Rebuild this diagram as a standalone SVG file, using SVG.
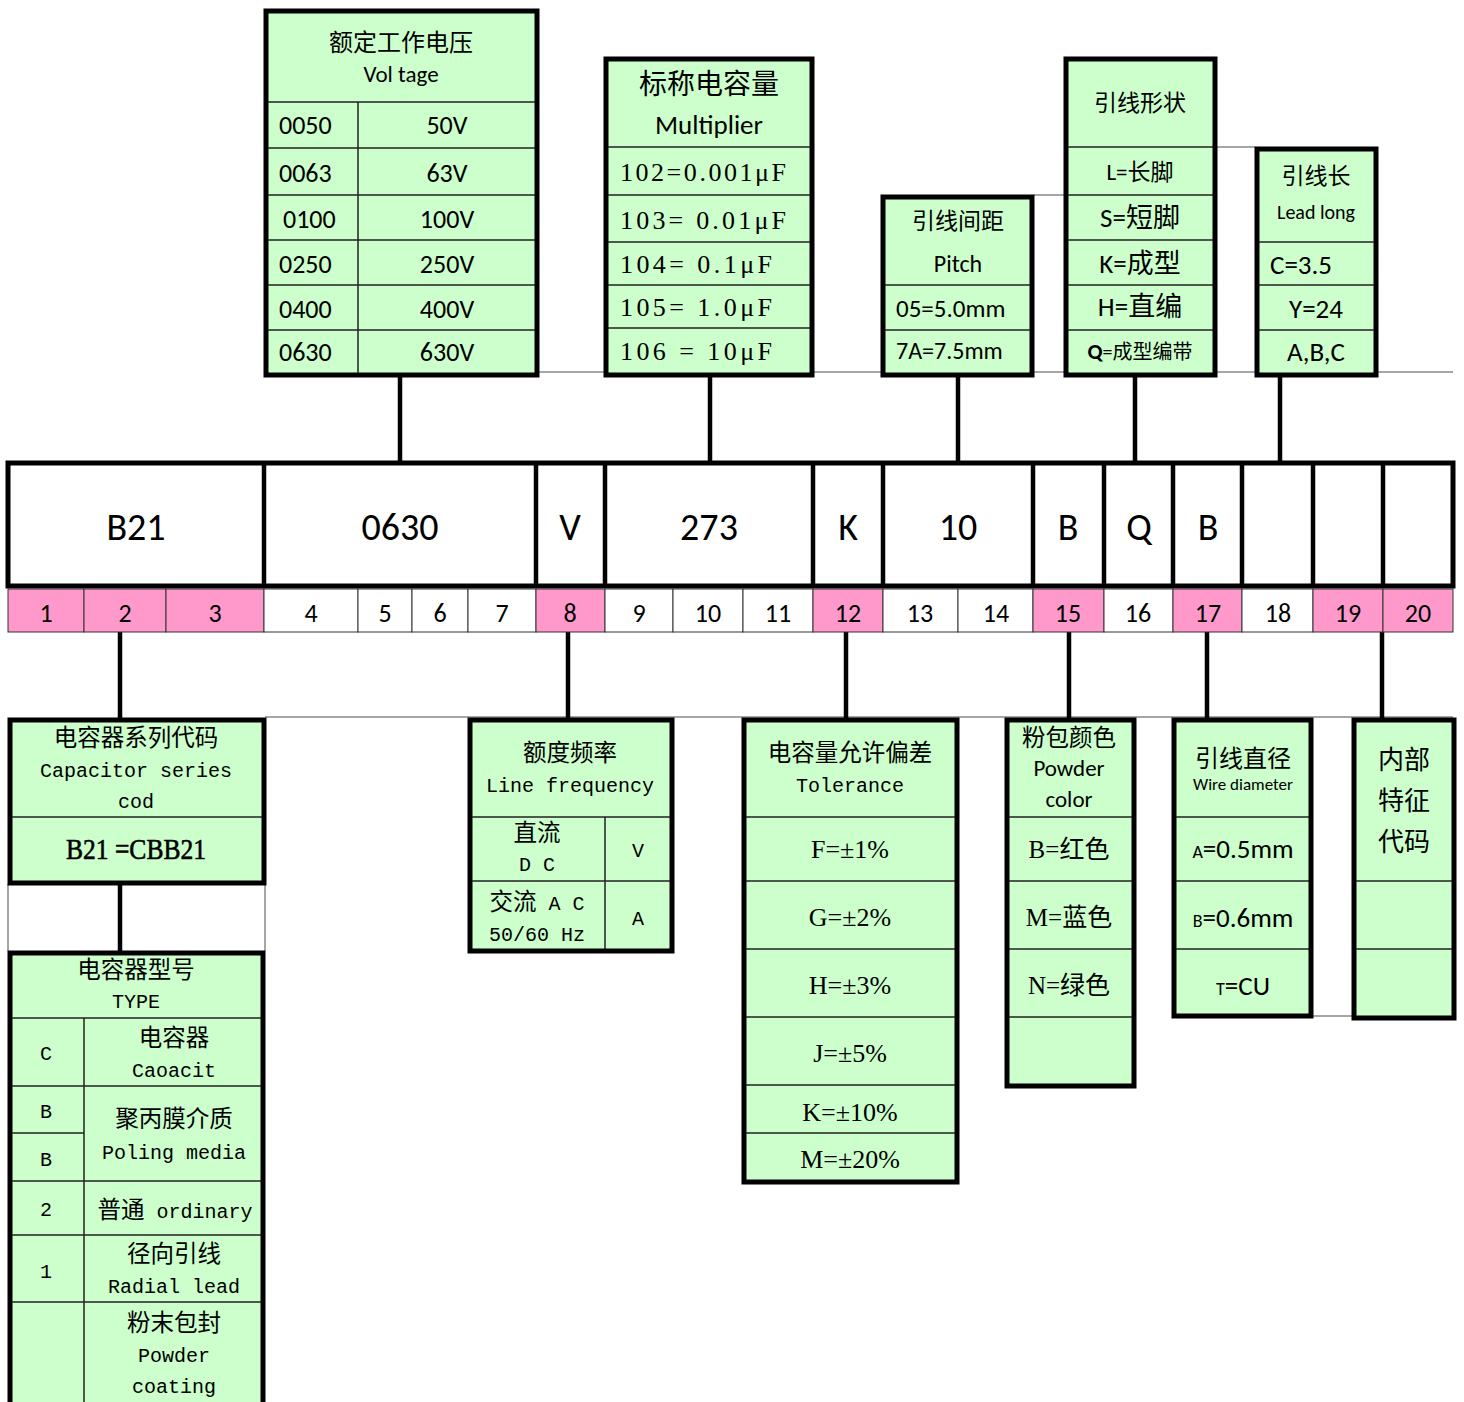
<svg xmlns="http://www.w3.org/2000/svg" width="1464" height="1402" viewBox="0 0 1464 1402">
<style>
.box{fill:#CCFFCC;stroke:#000;stroke-width:5}
.in{stroke:#222;stroke-width:1.5;fill:none}
.thin{stroke:#888;stroke-width:1.5;fill:none}
.con{stroke:#000;stroke-width:4.5;fill:none}
.sans{font-family:Carlito,"Open Sans","Noto Sans CJK SC",sans-serif;fill:#000}
.ser{font-family:"Liberation Serif","Noto Sans CJK SC",serif;fill:#000}
.mono{font-family:"Liberation Mono","Noto Sans CJK SC",monospace;fill:#000}
.c{text-anchor:middle}
.pink{fill:#FF99CC}
.num{fill:#fff}
.cell{stroke:#333;stroke-width:1}
</style>
<rect width="1464" height="1402" fill="#fff"/>
<g id="connectors">
<line class="thin" x1="538" y1="372" x2="1453" y2="372"/>
<line class="thin" x1="1034" y1="195" x2="1064" y2="195"/>
<line class="thin" x1="1217" y1="147" x2="1255" y2="147"/>
<line class="thin" x1="265" y1="717" x2="1453" y2="717"/>
<line class="thin" x1="8" y1="884" x2="8" y2="951"/>
<line class="thin" x1="265" y1="884" x2="265" y2="951"/>
<line class="thin" x1="1313" y1="1016" x2="1352" y2="1016"/>
<line class="con" x1="400" y1="376" x2="400" y2="463"/>
<line class="con" x1="710" y1="376" x2="710" y2="463"/>
<line class="con" x1="958" y1="376" x2="958" y2="463"/>
<line class="con" x1="1135" y1="376" x2="1135" y2="463"/>
<line class="con" x1="1280" y1="376" x2="1280" y2="463"/>
<line class="con" x1="120" y1="632" x2="120" y2="718"/>
<line class="con" x1="120" y1="884" x2="120" y2="951"/>
<line class="con" x1="568" y1="632" x2="568" y2="718"/>
<line class="con" x1="846" y1="632" x2="846" y2="718"/>
<line class="con" x1="1069" y1="632" x2="1069" y2="718"/>
<line class="con" x1="1207" y1="632" x2="1207" y2="718"/>
<line class="con" x1="1382" y1="632" x2="1382" y2="718"/>
</g>

<g id="voltage">
<rect class="box" x="266" y="11" width="271" height="364"/>
<path class="in" d="M268 102H535M268 148H535M268 195H535M268 240H535M268 285H535M268 330H535M358 102V373"/>
<text class="sans c" x="401" y="51" font-size="24">额定工作电压</text>
<text class="sans c" x="401" y="82" font-size="23">Vol tage</text>
<g class="sans" font-size="26">
<text x="279" y="134">0050</text><text x="279" y="182">0063</text><text x="283" y="228">0100</text><text x="279" y="273">0250</text><text x="279" y="318">0400</text><text x="279" y="361">0630</text>
</g>
<g class="sans c" font-size="26">
<text x="447" y="134">50V</text><text x="447" y="182">63V</text><text x="447" y="228">100V</text><text x="447" y="273">250V</text><text x="447" y="318">400V</text><text x="447" y="361">630V</text>
</g>
</g>

<g id="multiplier">
<rect class="box" x="606" y="59" width="206" height="316"/>
<path class="in" d="M608 147H810M608 195H810M608 242H810M608 285H810M608 328H810"/>
<text class="sans c" x="709" y="94" font-size="28">标称电容量</text>
<text class="sans c" x="709" y="134" font-size="27">Multiplier</text>
<g class="ser" font-size="26">
<text x="620" y="181" textLength="166" lengthAdjust="spacing">102=0.001μF</text>
<text x="620" y="229" textLength="166" lengthAdjust="spacing">103= 0.01μF</text>
<text x="620" y="273" textLength="152" lengthAdjust="spacing">104= 0.1μF</text>
<text x="620" y="316" textLength="152" lengthAdjust="spacing">105= 1.0μF</text>
<text x="620" y="360" textLength="152" lengthAdjust="spacing">106 = 10μF</text>
</g>
</g>

<g id="pitch">
<rect class="box" x="883" y="197" width="149" height="178"/>
<path class="in" d="M885 285H1030M885 330H1030"/>
<text class="sans c" x="958" y="229" font-size="23">引线间距</text>
<text class="sans c" x="958" y="272" font-size="24">Pitch</text>
<text class="sans" x="896" y="317" font-size="25">05=5.0mm</text>
<text class="sans" x="896" y="359" font-size="24">7A=7.5mm</text>
</g>

<g id="leadshape">
<rect class="box" x="1066" y="59" width="149" height="316"/>
<path class="in" d="M1068 147H1213M1068 195H1213M1068 240H1213M1068 285H1213M1068 330H1213"/>
<text class="sans c" x="1140" y="111" font-size="23">引线形状</text>
<text class="sans c" x="1140" y="180" font-size="23">L=长脚</text>
<text class="sans c" x="1140" y="227" font-size="27">S=短脚</text>
<text class="sans c" x="1140" y="273" font-size="27">K=成型</text>
<text class="sans c" x="1140" y="316" font-size="27">H=直编</text>
<text class="sans c" x="1140" y="359" font-size="20"><tspan font-weight="bold" font-size="22">Q</tspan>=成型编带</text>
</g>

<g id="leadlong">
<rect class="box" x="1257" y="149" width="119" height="226"/>
<path class="in" d="M1259 242H1374M1259 285H1374M1259 330H1374"/>
<text class="sans c" x="1316" y="184" font-size="23">引线长</text>
<text class="sans c" x="1316" y="219" font-size="20">Lead long</text>
<text class="sans" x="1270" y="274" font-size="27">C=3.5</text>
<text class="sans c" x="1316" y="318" font-size="27">Y=24</text>
<text class="sans c" x="1316" y="361" font-size="27">A,B,C</text>
</g>

<g id="code-row">
<rect x="8" y="463" width="1445" height="123" fill="#fff" stroke="#000" stroke-width="5"/>
<path stroke="#000" stroke-width="4.5" d="M264 463V586M536 463V586M605 463V586M813 463V586M883 463V586M1033 463V586M1104 463V586M1173 463V586M1242 463V586M1313 463V586M1383 463V586"/>
<g class="sans c" font-size="38">
<text x="136" y="540">B21</text><text x="400" y="540">0630</text><text x="570" y="540">V</text><text x="709" y="540">273</text><text x="848" y="540">K</text><text x="958" y="540">10</text><text x="1068" y="540">B</text><text x="1139" y="540">Q</text><text x="1208" y="540">B</text>
</g>
</g>

<g id="position-row">
<g class="cell">
<rect class="pink" x="8" y="589" width="76" height="43"/>
<rect class="pink" x="84" y="589" width="82" height="43"/>
<rect class="pink" x="166" y="589" width="98" height="43"/>
<rect class="num" x="264" y="589" width="94" height="43"/>
<rect class="num" x="358" y="589" width="54" height="43"/>
<rect class="num" x="412" y="589" width="56" height="43"/>
<rect class="num" x="468" y="589" width="68" height="43"/>
<rect class="pink" x="536" y="589" width="69" height="43"/>
<rect class="num" x="605" y="589" width="68" height="43"/>
<rect class="num" x="673" y="589" width="70" height="43"/>
<rect class="num" x="743" y="589" width="70" height="43"/>
<rect class="pink" x="813" y="589" width="70" height="43"/>
<rect class="num" x="883" y="589" width="75" height="43"/>
<rect class="num" x="958" y="589" width="75" height="43"/>
<rect class="pink" x="1033" y="589" width="71" height="43"/>
<rect class="num" x="1104" y="589" width="69" height="43"/>
<rect class="pink" x="1173" y="589" width="69" height="43"/>
<rect class="num" x="1242" y="589" width="71" height="43"/>
<rect class="pink" x="1313" y="589" width="70" height="43"/>
<rect class="pink" x="1383" y="589" width="70" height="43"/>
</g>
<g class="sans c" font-size="26">
<text x="46" y="622">1</text><text x="125" y="622">2</text><text x="215" y="622">3</text><text x="311" y="622">4</text><text x="385" y="622">5</text><text x="440" y="622">6</text><text x="502" y="622">7</text><text x="570" y="622">8</text><text x="639" y="622">9</text><text x="708" y="622">10</text><text x="778" y="622">11</text><text x="848" y="622">12</text><text x="920" y="622">13</text><text x="996" y="622">14</text><text x="1068" y="622">15</text><text x="1138" y="622">16</text><text x="1208" y="622">17</text><text x="1278" y="622">18</text><text x="1348" y="622">19</text><text x="1418" y="622">20</text>
</g>
</g>

<g id="series">
<rect class="box" x="10" y="720" width="254" height="163"/>
<path class="in" d="M12 817H262"/>
<text class="mono c" x="136" y="746" font-size="23.5">电容器系列代码</text>
<text class="mono c" x="136" y="777" font-size="20">Capacitor series</text>
<text class="mono c" x="136" y="808" font-size="20">cod</text>
<text class="ser" x="66" y="859" font-size="29" stroke="#000" stroke-width="0.6" textLength="140" lengthAdjust="spacingAndGlyphs">B21 =CBB21</text>
</g>

<g id="type">
<path d="M10 1402V953H263V1402" fill="#CCFFCC" stroke="#000" stroke-width="5"/>
<path class="in" d="M12 1018H261M12 1086H261M12 1133H84M12 1181H261M12 1235H261M12 1302H261M84 1018V1402"/>
<text class="mono c" x="136" y="978" font-size="23.5">电容器型号</text>
<text class="mono c" x="136" y="1008" font-size="20">TYPE</text>
<g class="mono c" font-size="20">
<text x="46" y="1060">C</text><text x="46" y="1118">B</text><text x="46" y="1166">B</text><text x="46" y="1216">2</text><text x="46" y="1278">1</text>
<text x="174" y="1046" font-size="23.5">电容器</text><text x="174" y="1077">Caoacit</text>
<text x="174" y="1127" font-size="23.5">聚丙膜介质</text><text x="174" y="1159">Poling media</text>
<text x="175" y="1218"><tspan font-size="23.5">普通</tspan> ordinary</text>
<text x="174" y="1262" font-size="23.5">径向引线</text><text x="174" y="1293">Radial lead</text>
<text x="174" y="1331" font-size="23.5">粉末包封</text><text x="174" y="1362">Powder</text><text x="174" y="1393">coating</text>
</g>
</g>

<g id="frequency">
<rect class="box" x="470" y="720" width="202" height="231"/>
<path class="in" d="M472 817H670M472 881H670M605 817V949"/>
<text class="mono c" x="570" y="761" font-size="23.5">额度频率</text>
<text class="mono c" x="570" y="792" font-size="20">Line frequency</text>
<g class="mono c" font-size="20">
<text x="537" y="841" font-size="23.5">直流</text><text x="537" y="871">D C</text>
<text x="638" y="857">V</text>
<text x="537" y="910"><tspan font-size="23.5">交流</tspan> A C</text><text x="537" y="941">50/60 Hz</text>
<text x="638" y="925">A</text>
</g>
</g>

<g id="tolerance">
<rect class="box" x="744" y="720" width="213" height="462"/>
<path class="in" d="M746 817H955M746 881H955M746 949H955M746 1017H955M746 1085H955M746 1133H955"/>
<text class="mono c" x="850" y="761" font-size="23.5">电容量允许偏差</text>
<text class="mono c" x="850" y="792" font-size="20">Tolerance</text>
<g class="ser c" font-size="26">
<text x="850" y="858">F=±1%</text><text x="850" y="926">G=±2%</text><text x="850" y="994">H=±3%</text><text x="850" y="1062">J=±5%</text><text x="850" y="1121">K=±10%</text><text x="850" y="1168">M=±20%</text>
</g>
</g>

<g id="powder">
<rect class="box" x="1007" y="720" width="127" height="366"/>
<path class="in" d="M1009 817H1132M1009 881H1132M1009 949H1132M1009 1017H1132"/>
<text class="mono c" x="1069" y="746" font-size="23.5">粉包颜色</text>
<text class="sans c" x="1069" y="776" font-size="23">Powder</text>
<text class="sans c" x="1069" y="807" font-size="23">color</text>
<g class="ser c" font-size="25">
<text x="1069" y="858">B=红色</text><text x="1069" y="926">M=蓝色</text><text x="1069" y="994">N=绿色</text>
</g>
</g>

<g id="wire">
<rect class="box" x="1174" y="720" width="137" height="296"/>
<path class="in" d="M1176 817H1309M1176 881H1309M1176 949H1309"/>
<text class="mono c" x="1243" y="767" font-size="24">引线直径</text>
<text class="sans c" x="1243" y="790" font-size="17">Wire diameter</text>
<g class="sans c" font-size="27">
<text x="1243" y="858"><tspan font-size="18">A</tspan>=0.5mm</text>
<text x="1243" y="927"><tspan font-size="18">B</tspan>=0.6mm</text>
<text x="1243" y="995"><tspan font-size="18">T</tspan>=CU</text>
</g>
</g>

<g id="internal">
<rect class="box" x="1354" y="720" width="100" height="298"/>
<path class="in" d="M1356 881H1452M1356 949H1452"/>
<g class="mono c" font-size="26">
<text x="1404" y="769">内部</text><text x="1404" y="810">特征</text><text x="1404" y="851">代码</text>
</g>
</g>
</svg>
